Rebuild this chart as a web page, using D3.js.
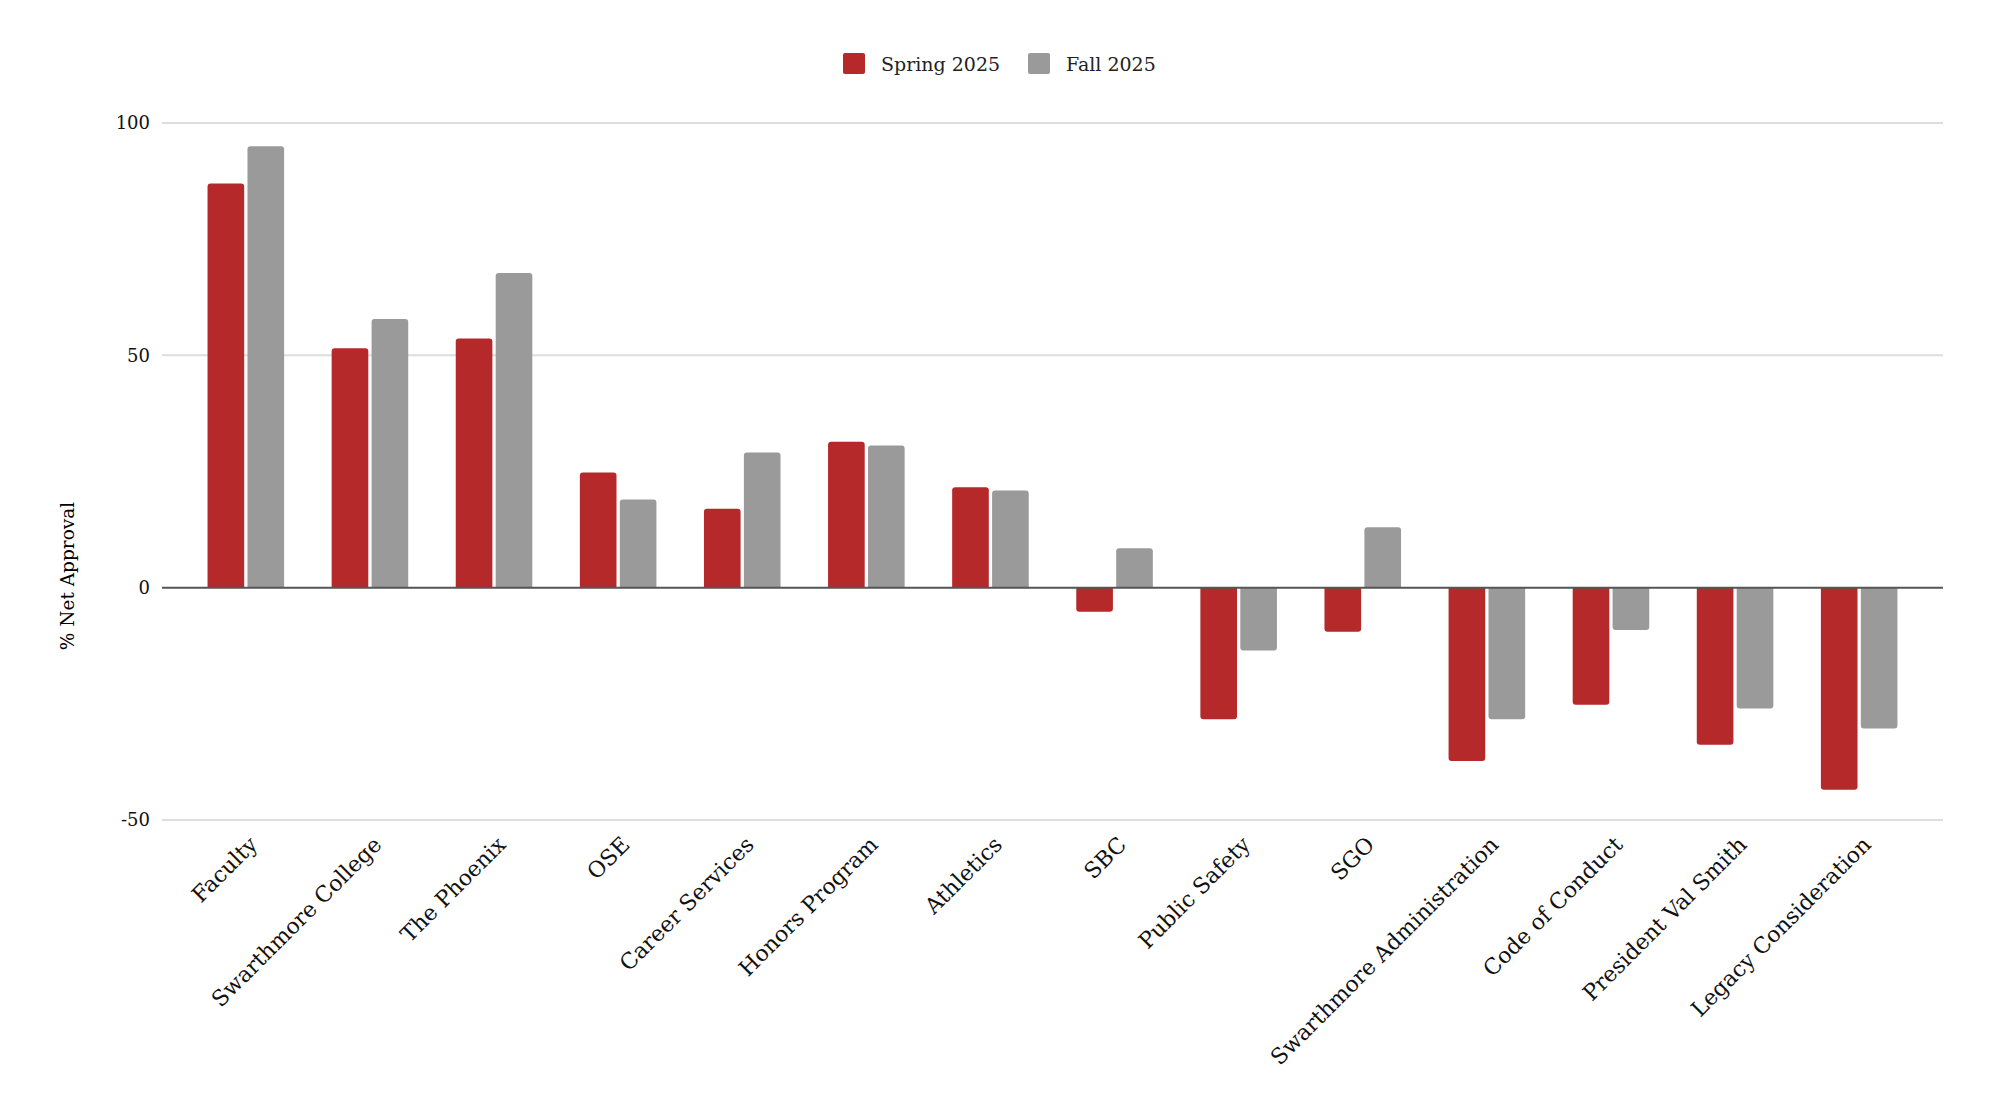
<!DOCTYPE html>
<html>
<head>
<meta charset="utf-8">
<script src="https://cdn.jsdelivr.net/npm/d3@7"></script>
<style>
  html, body { margin: 0; padding: 0; background: #ffffff; }
  svg { display: block; }
</style>
</head>
<body>
<svg id="chart" width="2000" height="1119"></svg>
<script>
// ---- data ----
const categories = ["Faculty", "Swarthmore College", "The Phoenix", "OSE", "Career Services",
  "Honors Program", "Athletics", "SBC", "Public Safety", "SGO",
  "Swarthmore Administration", "Code of Conduct", "President Val Smith", "Legacy Consideration"];
const seriesNames = ["Spring 2025", "Fall 2025"];
const spring2025 = [87, 51.5, 53.6, 24.8, 17, 31.4, 21.6, -5.2, -28.3, -9.5, -37.3, -25.2, -33.8, -43.5];
const fall2025 = [95, 57.8, 67.7, 19, 29.1, 30.6, 20.9, 8.5, -13.5, 13, -28.3, -9.1, -26, -30.3];
const yTicks = [-50, 0, 50, 100];
const colors = ["#b5292a", "#9a9a9a"];
const yTitle = "% Net Approval";

const seriesValues = [spring2025, fall2025];
const rows = categories.map((c, i) => ({ cat: c, vals: seriesNames.map((s, j) => ({ s, v: seriesValues[j][i] })) }));

const svg = d3.select("#chart");
const W = 2000, H = 1119;
svg.append("rect").attr("width", W).attr("height", H).attr("fill", "#fff");

const gridX0 = 162, gridX1 = 1943;
const x = d3.scaleBand().domain(categories).range([gridX0, gridX1]).paddingInner(0.383).paddingOuter(0.367);
const xs = d3.scaleBand().domain(seriesNames).range([0, x.bandwidth()]).paddingInner(0.0825);
const y = d3.scaleLinear().domain([-50, 100]).range([820, 123]);

const FONT = "'DejaVu Serif', Georgia, serif";

// gridlines
svg.append("g").selectAll("line").data(yTicks.filter(t => t !== 0)).join("line")
  .attr("x1", gridX0).attr("x2", gridX1)
  .attr("y1", d => y(d)).attr("y2", d => y(d))
  .attr("stroke", "#dddddd").attr("stroke-width", 2);

// y tick labels via axis
const yAxis = d3.axisLeft(y).tickValues(yTicks).tickSize(0).tickPadding(0).tickFormat(d => String(d));
const ya = svg.append("g").attr("transform", "translate(150,0)").call(yAxis);
ya.select(".domain").remove();
ya.selectAll("text").attr("font-family", FONT).attr("font-size", 18).attr("fill", "#111").attr("dy", "0.32em");

// bars with rounded outer end
const r = 3;
function barPath(x0, w, yv, y0) {
  const p = d3.path();
  const s = yv <= y0 ? 1 : -1;
  p.moveTo(x0, y0);
  p.lineTo(x0, yv + s * r);
  p.quadraticCurveTo(x0, yv, x0 + r, yv);
  p.lineTo(x0 + w - r, yv);
  p.quadraticCurveTo(x0 + w, yv, x0 + w, yv + s * r);
  p.lineTo(x0 + w, y0);
  p.closePath();
  return p.toString();
}

const groups = svg.append("g").selectAll("g").data(rows).join("g")
  .attr("transform", d => `translate(${x(d.cat)},0)`);
groups.selectAll("path").data(d => d.vals).join("path")
  .attr("d", d => barPath(xs(d.s), xs.bandwidth(), y(d.v), y(0)))
  .attr("fill", (d, i) => colors[i]);

// zero line
svg.append("line").attr("x1", gridX0).attr("x2", gridX1).attr("y1", y(0)).attr("y2", y(0))
  .attr("stroke", "#555").attr("stroke-width", 2);

// x axis labels
const xAxis = d3.axisBottom(x).tickSize(0).tickPadding(0);
const xa = svg.append("g").attr("transform", `translate(0,${y(-50)})`).call(xAxis);
xa.select(".domain").remove();
xa.selectAll("text")
  .attr("font-family", FONT).attr("font-size", 22).attr("fill", "#111")
  .attr("text-anchor", "end")
  .attr("transform", "translate(13,26) rotate(-45)")
  .attr("dy", 0).attr("y", 0).attr("x", 0);

// y title
svg.append("text").attr("transform", "translate(74,576) rotate(-90)")
  .attr("text-anchor", "middle").attr("font-family", FONT)
  .attr("font-size", 18.5).attr("fill", "#000").text(yTitle);

// legend
const lg = svg.append("g");
const legendX = [843, 1028];
seriesNames.forEach((s, i) => {
  lg.append("rect").attr("x", legendX[i]).attr("y", 53).attr("width", 22).attr("height", 21)
    .attr("rx", 2).attr("fill", colors[i]);
  lg.append("text").attr("x", legendX[i] + 38).attr("y", 71).attr("font-family", FONT)
    .attr("font-size", 19).attr("fill", "#222").text(s);
});
</script>
</body>
</html>
